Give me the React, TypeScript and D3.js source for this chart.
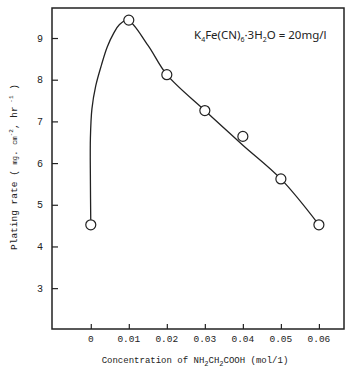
import * as d3 from "d3";
import { useEffect, useRef } from "react";

// measured points
const concentrations = [0, 0.01, 0.02, 0.03, 0.04, 0.05, 0.06];
const platingRates = [4.52, 9.43, 8.12, 7.26, 6.64, 5.62, 4.52];

// hand-drawn fit line
const fitX = [0, -0.0001, -0.0001, 0.0003, 0.0013, 0.0028, 0.0043, 0.006, 0.0075, 0.0097, 0.015, 0.02, 0.03, 0.04, 0.05, 0.06];
const fitY = [4.52, 5.6, 6.6, 7.3, 7.85, 8.35, 8.78, 9.11, 9.32, 9.43, 8.83, 8.12, 7.26, 6.43, 5.62, 4.52];

const xTicks = [0, 0.01, 0.02, 0.03, 0.04, 0.05, 0.06];
const xTickLabels = ["0", "0.01", "0.02", "0.03", "0.04", "0.05", "0.06"];
const yTicks = [3, 4, 5, 6, 7, 8, 9];

export default function App() {
  const ref = useRef<SVGSVGElement | null>(null);

  useEffect(() => {
    if (!ref.current) return;
    const svg = d3.select(ref.current);
    svg.selectAll("*").remove();

    const left = 52;
    const right = 344;
    const top = 8;
    const bottom = 329;
    const ink = "#222";
    const mono = "'Liberation Mono', monospace";

    const x = d3.scaleLinear().domain([-0.0102, 0.0666]).range([left, right]);
    const y = d3.scaleLinear().domain([2.02, 9.72]).range([bottom, top]);

    svg
      .append("rect")
      .attr("x", left)
      .attr("y", top)
      .attr("width", right - left)
      .attr("height", bottom - top)
      .attr("fill", "none")
      .attr("stroke", ink)
      .attr("stroke-width", 1.5);

    // y ticks point inward
    svg
      .append("g")
      .attr("transform", `translate(${left},0)`)
      .call(
        d3
          .axisRight(y)
          .tickValues(yTicks)
          .tickSize(6)
          .tickFormat(() => "")
      )
      .call((g: any) => g.select(".domain").remove())
      .call((g: any) => g.selectAll("line").attr("stroke", ink).attr("stroke-width", 1.2));

    svg
      .append("g")
      .selectAll("text")
      .data(yTicks)
      .join("text")
      .attr("x", 40)
      .attr("y", (d) => y(d) + 3.5)
      .attr("text-anchor", "middle")
      .attr("font-family", mono)
      .attr("font-size", 10)
      .attr("fill", ink)
      .text((d) => d);

    // x ticks point up
    svg
      .append("g")
      .attr("transform", `translate(0,${bottom})`)
      .call(
        d3
          .axisTop(x)
          .tickValues(xTicks)
          .tickSize(5)
          .tickFormat(() => "")
      )
      .call((g: any) => g.select(".domain").remove())
      .call((g: any) => g.selectAll("line").attr("stroke", ink).attr("stroke-width", 1.2));

    svg
      .append("g")
      .selectAll("text")
      .data(xTicks)
      .join("text")
      .attr("x", (d) => x(d))
      .attr("y", 342)
      .attr("text-anchor", "middle")
      .attr("font-family", mono)
      .attr("font-size", 9.5)
      .attr("fill", ink)
      .text((d, i) => xTickLabels[i]);

    const fit = d3.zip(fitX, fitY) as [number, number][];
    const line = d3
      .line<[number, number]>()
      .x((d) => x(d[0]))
      .y((d) => y(d[1]))
      .curve(d3.curveCatmullRom.alpha(0.5));

    svg
      .append("path")
      .attr("d", line(fit))
      .attr("fill", "none")
      .attr("stroke", ink)
      .attr("stroke-width", 1.3);

    svg
      .append("g")
      .selectAll("circle")
      .data(concentrations)
      .join("circle")
      .attr("cx", (d) => x(d))
      .attr("cy", (d, i) => y(platingRates[i]))
      .attr("r", 5)
      .attr("fill", "#fff")
      .attr("stroke", ink)
      .attr("stroke-width", 1.2);

    // x axis title
    const xt = svg
      .append("text")
      .attr("x", 195)
      .attr("y", 363)
      .attr("text-anchor", "middle")
      .attr("font-family", mono)
      .attr("font-size", 9)
      .attr("fill", ink);
    xt.append("tspan").text("Concentration of NH");
    xt.append("tspan").attr("dy", 3).attr("font-size", 7).text("2");
    xt.append("tspan").attr("dy", -3).text("CH");
    xt.append("tspan").attr("dy", 3).attr("font-size", 7).text("2");
    xt.append("tspan").attr("dy", -3).text("COOH (mol/1)");

    // y axis title
    const yt = svg
      .append("text")
      .attr("transform", "translate(17,167) rotate(-90)")
      .attr("text-anchor", "middle")
      .attr("font-family", mono)
      .attr("font-size", 9.5)
      .attr("fill", ink);
    yt.append("tspan").text("Plating rate ( ");
    yt.append("tspan").attr("font-size", 7).text("mg");
    yt.append("tspan").text(". ");
    yt.append("tspan").attr("font-size", 7).text("cm");
    yt.append("tspan").attr("dy", -4).attr("font-size", 6).text("-2");
    yt.append("tspan").attr("dy", 4).text(", hr");
    yt.append("tspan").attr("dy", -4).attr("font-size", 6).text(" -1");
    yt.append("tspan").attr("dy", 4).text(" )");

    // annotation
    const sans = "'Noto Sans', 'Liberation Sans', sans-serif";
    const at = svg
      .append("text")
      .attr("x", 194)
      .attr("y", 39)
      .attr("font-family", sans)
      .attr("font-size", 11.5)
      .attr("fill", ink);
    at.append("tspan").text("K");
    at.append("tspan").attr("dy", 3).attr("font-size", 7).text("4");
    at.append("tspan").attr("dy", -3).text("Fe(CN)");
    at.append("tspan").attr("dy", 3).attr("font-size", 7).text("6");
    at.append("tspan").attr("dy", -3).text("·3H");
    at.append("tspan").attr("dy", 3).attr("font-size", 7).text("2");
    at.append("tspan").attr("dy", -3).text("O = 20mg/l");
  }, []);

  return (
    <svg
      ref={ref}
      width={360}
      height={375}
      style={{ position: "absolute", left: 0, top: 0, background: "#fff" }}
    />
  );
}
